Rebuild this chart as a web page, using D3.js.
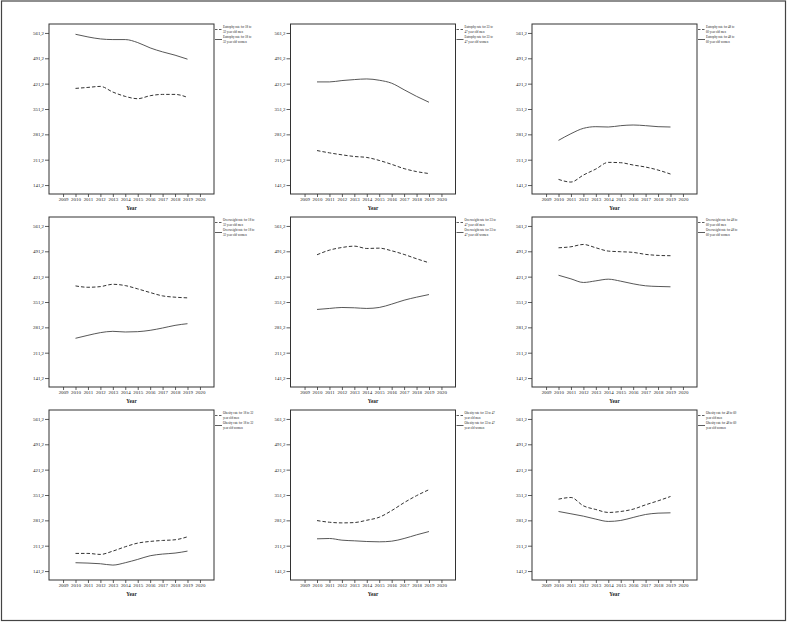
<!DOCTYPE html>
<html>
<head>
<meta charset="utf-8">
<script src="https://cdn.jsdelivr.net/npm/d3@7"></script>
<style>
  body { margin: 0; background: #fff; }
  text { font-family: "Liberation Serif", "DejaVu Serif", serif; fill: #222; }
</style>
</head>
<body>
<div id="chart_div"></div>
<script>
// years and axis ticks
var years = [2010, 2011, 2012, 2013, 2014, 2015, 2016, 2017, 2018, 2019];
var yearTicks = [2009, 2010, 2011, 2012, 2013, 2014, 2015, 2016, 2017, 2018, 2019, 2020];
var rateTicks = [141.2, 211.2, 281.2, 351.2, 421.2, 491.2, 561.2];

var ageGroups = ["18 to 32", "33 to 47", "48 to 60"];
var rateNames = ["Eutrophy rate", "Overweight rate", "Obesity rate"];

// eutrophy rate, men (dashed) / women (solid)
var eutrophyMen18 = [408.1, 410.8, 413.6, 398.0, 386.0, 379.6, 387.9, 391.5, 391.5, 383.3];
var eutrophyWomen18 = [557.5, 550.2, 544.7, 542.9, 542.9, 534.6, 519.9, 508.9, 499.8, 488.8];
var eutrophyMen33 = [236.5, 230.1, 224.7, 220.1, 217.4, 209.2, 198.4, 186.6, 178.4, 173.0];
var eutrophyWomen33 = [426.0, 426.0, 429.7, 432.4, 434.2, 430.6, 422.4, 404.3, 386.1, 369.8];
var eutrophyMen48 = [156.8, 149.5, 168.8, 185.4, 203.8, 202.9, 196.5, 190.9, 182.6, 171.6];
var eutrophyWomen48 = [264.6, 283.0, 297.8, 302.4, 301.5, 305.2, 307.0, 305.2, 302.4, 301.5];

// overweight rate
var overweightMen18 = [395.6, 391.9, 393.7, 400.1, 396.5, 387.4, 377.3, 368.1, 364.5, 362.6];
var overweightWomen18 = [251.0, 259.2, 266.6, 270.2, 268.4, 269.3, 273.0, 279.4, 286.7, 291.3];
var overweightMen33 = [481.6, 494.4, 501.7, 505.4, 499.0, 499.9, 492.6, 482.5, 470.6, 459.6];
var overweightWomen33 = [330.6, 333.4, 336.1, 335.2, 333.4, 336.1, 345.3, 356.2, 364.5, 371.8];
var overweightMen48 = [500.9, 503.7, 510.1, 500.9, 491.8, 490.0, 488.2, 482.7, 479.9, 479.0];
var overweightWomen48 = [425.1, 415.1, 405.1, 409.6, 414.2, 408.7, 401.4, 395.9, 394.1, 393.2];

// obesity rate
var obesityMen18 = [189.9, 189.9, 187.1, 196.3, 208.3, 218.4, 223.0, 225.7, 227.6, 235.8];
var obesityWomen18 = [164.2, 163.2, 161.4, 157.7, 164.2, 173.4, 183.5, 188.1, 190.8, 196.3];
var obesityMen33 = [280.6, 276.0, 274.2, 275.1, 281.5, 289.8, 308.1, 330.1, 349.4, 365.9];
var obesityWomen33 = [230.2, 231.1, 226.5, 224.7, 222.8, 221.9, 223.7, 231.1, 241.2, 250.3];
var obesityMen48 = [339.7, 344.3, 321.3, 311.2, 303.0, 305.7, 312.1, 324.1, 335.1, 347.1];
var obesityWomen48 = [305.7, 299.3, 292.8, 284.6, 278.2, 280.9, 289.2, 297.4, 301.1, 302.0];

// panels: row = rate, column = age group
var panels = [
  [eutrophyMen18, eutrophyWomen18], [eutrophyMen33, eutrophyWomen33], [eutrophyMen48, eutrophyWomen48],
  [overweightMen18, overweightWomen18], [overweightMen33, overweightWomen33], [overweightMen48, overweightWomen48],
  [obesityMen18, obesityWomen18], [obesityMen33, obesityWomen33], [obesityMen48, obesityWomen48]
];

var w = 787, h = 622;
var svg = d3.select("#chart_div").append("svg")
    .attr("width", w)
    .attr("height", h);

// outer frame of the figure
svg.append("rect")
    .attr("x", 1.5).attr("y", 1)
    .attr("width", w - 3).attr("height", h - 2.5)
    .attr("fill", "none")
    .attr("stroke", "#444")
    .attr("stroke-width", 1.2);

var colX = [49, 290.5, 532];
var rowY = [24, 217, 410];
var pw = 165, ph = 170;

var x = d3.scaleLinear().domain([2007.87, 2021.13]).range([0, pw]);
var y = d3.scaleLinear().domain([116.5, 585.9]).range([ph, 0]);

var line = d3.line()
    .x(function(d, i) { return x(years[i]); })
    .y(function(d) { return y(d); })
    .curve(d3.curveMonotoneX);

function legendText(g, tx, ty, str) {
  g.append("text")
    .attr("transform", "translate(" + tx + "," + ty + ") scale(0.62,1)")
    .style("font-size", "5px")
    .text(str);
}

for (var r = 0; r < 3; r++) {
  for (var c = 0; c < 3; c++) {
    var g = svg.append("g")
        .attr("transform", "translate(" + colX[c] + "," + rowY[r] + ")");

    var yAxis = g.append("g")
        .call(d3.axisLeft(y).tickValues(rateTicks).tickSize(4).tickPadding(1)
          .tickFormat(function(d) { return d.toFixed(1).replace(".", ","); }));
    var xAxis = g.append("g")
        .attr("transform", "translate(0," + ph + ")")
        .call(d3.axisBottom(x).tickValues(yearTicks).tickSize(3).tickPadding(1)
          .tickFormat(d3.format("d")));
    [yAxis, xAxis].forEach(function(a) {
      a.select(".domain").remove();
      a.selectAll("line").attr("stroke", "#333").attr("stroke-width", 0.8);
      a.selectAll("text")
        .style("font-family", '"Liberation Serif", serif')
        .style("font-size", "4.9px")
        .attr("fill", "#222");
    });

    g.append("rect")
        .attr("width", pw).attr("height", ph)
        .attr("fill", "none")
        .attr("stroke", "#333")
        .attr("stroke-width", 1);

    g.append("text")
        .attr("x", pw / 2).attr("y", ph + 15.5)
        .attr("text-anchor", "middle")
        .style("font-size", "5.2px")
        .style("font-weight", "bold")
        .text("Year");

    var men = panels[r * 3 + c][0];
    var women = panels[r * 3 + c][1];

    g.append("path")
        .attr("d", line(men))
        .attr("fill", "none")
        .attr("stroke", "#333")
        .attr("stroke-width", 1)
        .attr("stroke-dasharray", "3.5,2");
    g.append("path")
        .attr("d", line(women))
        .attr("fill", "none")
        .attr("stroke", "#444")
        .attr("stroke-width", 0.9);

    // legend at the right of the frame
    var lg = g.append("g").attr("transform", "translate(" + pw + ",0)");
    lg.append("line")
        .attr("x1", 1).attr("x2", 8).attr("y1", 5.5).attr("y2", 5.5)
        .attr("stroke", "#333").attr("stroke-width", 0.8)
        .attr("stroke-dasharray", "2.5,1.5");
    lg.append("line")
        .attr("x1", 1).attr("x2", 8).attr("y1", 15.5).attr("y2", 15.5)
        .attr("stroke", "#333").attr("stroke-width", 0.8);

    var name = rateNames[r], ages = ageGroups[c];
    var parts = ages.split(" to ");
    var l1, l2m, l2w;
    if (r == 2) {
      l1 = name + " for " + ages;
      l2m = "year old men"; l2w = "year old women";
    } else {
      l1 = name + " for " + parts[0] + " to";
      l2m = parts[1] + " year old men"; l2w = parts[1] + " year old women";
    }
    legendText(lg, 9, 4, l1);
    legendText(lg, 9, 8.5, l2m);
    legendText(lg, 9, 14, l1);
    legendText(lg, 9, 18.5, l2w);
  }
}
</script>
</body>
</html>
